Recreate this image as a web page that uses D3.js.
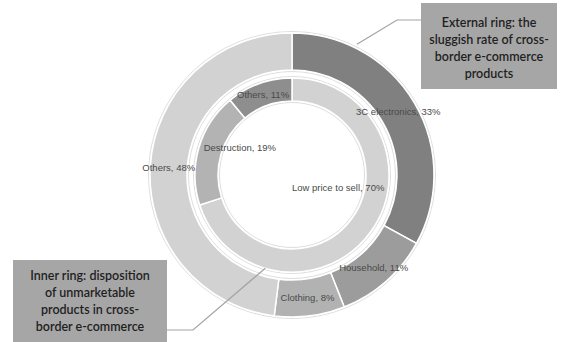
<!DOCTYPE html>
<html>
<head>
<meta charset="utf-8">
<script src="https://cdn.jsdelivr.net/npm/d3@7"></script>
<style>
  body { margin: 0; background: #fff; }
  svg { display: block; }
  .slicelabel { font-family: "Liberation Sans", Arial, sans-serif; font-size: 9.5px; fill: #4a4a4a; }
  .boxtext { font-family: Lato, "Open Sans", sans-serif; font-size: 12.5px; font-weight: 600; fill: #1f1f1f; }
</style>
</head>
<body>
<svg id="chart"></svg>
<script>
// outer ring: sluggish rate by product category
var outerNames = ["3C electronics", "Household", "Clothing", "Others"],
	outerValues = [33, 11, 8, 48],
	outerColors = ["#808080", "#9c9c9c", "#b2b2b2", "#d2d2d2"];

// inner ring: disposition of unmarketable products
var innerNames = ["Low price to sell", "Destruction", "Others"],
	innerValues = [70, 19, 11],
	innerColors = ["#d2d2d2", "#b3b3b3", "#8e8e8e"];

var outerNote = ["External ring: the", "sluggish rate of cross-", "border e-commerce", "products"],
	innerNote = ["Inner ring: disposition", "of unmarketable", "products in cross-", "border e-commerce"];

var width = 567, height = 342,
	cx = 292, cy = 175,
	ringOuter = [105, 142],
	ringInner = [74, 97];

var svg = d3.select("#chart").attr("width", width).attr("height", height);
var g = svg.append("g").attr("transform", "translate(" + cx + "," + cy + ")");

var pie = d3.pie().sort(null).value(function(d) { return d; });

function drawRing(values, colors, radii, cls) {
	var arc = d3.arc().innerRadius(radii[0]).outerRadius(radii[1]);
	var ring = g.append("g").attr("class", cls);
	// faint outline round the ring
	ring.append("circle").attr("r", radii[1] + 1.5)
		.attr("fill", "none").attr("stroke", "#dedede").attr("stroke-width", 1);
	ring.append("circle").attr("r", radii[0] - 1.5)
		.attr("fill", "none").attr("stroke", "#dedede").attr("stroke-width", 1);
	ring.selectAll("path")
		.data(pie(values))
		.enter().append("path")
			.attr("d", arc)
			.attr("fill", function(d, i) { return colors[i]; })
			.attr("stroke", "#fff")
			.attr("stroke-width", 1.5);
	return arc;
}

var outerArc = drawRing(outerValues, outerColors, ringOuter, "outer"),
	innerArc = drawRing(innerValues, innerColors, ringInner, "inner");

// labels sit on the arc centroid, two inner ones are pushed into the hole like Excel did
var innerNudge = [[-23, -38], [30, -3], [0, 0]];

g.selectAll(".outerlabel")
	.data(pie(outerValues))
	.enter().append("text")
		.attr("class", "slicelabel outerlabel")
		.attr("transform", function(d) { return "translate(" + outerArc.centroid(d) + ")"; })
		.attr("text-anchor", "middle")
		.attr("dy", "0.35em")
		.text(function(d, i) { return outerNames[i] + ", " + outerValues[i] + "%"; });

g.selectAll(".innerlabel")
	.data(pie(innerValues))
	.enter().append("text")
		.attr("class", "slicelabel innerlabel")
		.attr("transform", function(d, i) {
			var c = innerArc.centroid(d);
			return "translate(" + (c[0] + innerNudge[i][0]) + "," + (c[1] + innerNudge[i][1]) + ")";
		})
		.attr("text-anchor", "middle")
		.attr("dy", "0.35em")
		.text(function(d, i) { return innerNames[i] + ", " + innerValues[i] + "%"; });

// callouts
function pointOn(r, deg) {
	var a = deg * Math.PI / 180;
	return [cx + r * Math.sin(a), cy - r * Math.cos(a)];
}

function callout(lines, box, path) {
	svg.append("path")
		.attr("d", d3.line()(path))
		.attr("fill", "none")
		.attr("stroke", "#a3a3a3")
		.attr("stroke-width", 1.2);
	svg.append("rect")
		.attr("x", box.x).attr("y", box.y)
		.attr("width", box.w).attr("height", box.h)
		.attr("fill", "#a6a6a6");
	var t = svg.append("text")
		.attr("class", "boxtext")
		.attr("text-anchor", "middle");
	t.selectAll("tspan")
		.data(lines)
		.enter().append("tspan")
			.attr("x", box.x + box.w / 2)
			.attr("y", function(d, i) { return box.y + box.ty + i * 17.3; })
			.text(function(d) { return d; });
}

var p1 = pointOn(ringOuter[1] + 4, 26.4);
callout(outerNote, {x: 421, y: 3, w: 136, h: 86, ty: 23.5}, [p1, [397, 20], [421, 20]]);

var p2 = pointOn(ringInner[1], 196);
callout(innerNote, {x: 13, y: 260, w: 154, h: 90, ty: 19.5}, [p2, [193, 330], [167, 330]]);
</script>
</body>
</html>
